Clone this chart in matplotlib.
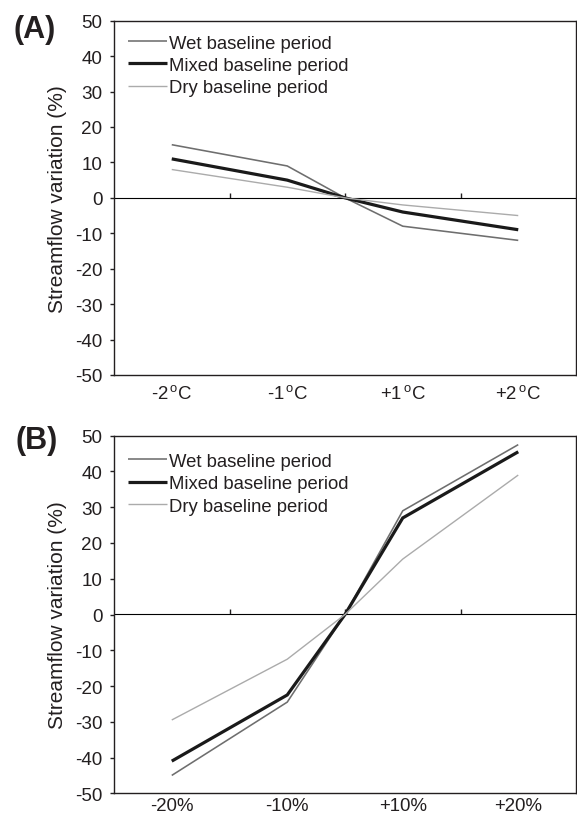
import numpy as np
import matplotlib
matplotlib.use("Agg")
import matplotlib.pyplot as plt

plt.rcParams['font.family'] = ['Liberation Sans', 'DejaVu Sans']
plt.rcParams['mathtext.fontset'] = 'custom'
plt.rcParams['mathtext.rm'] = 'Liberation Sans'

# ---- data ----
temp_labels = [r'-2$^{\,\mathrm{o}}$C', r'-1$^{\,\mathrm{o}}$C', r'+1$^{\,\mathrm{o}}$C', r'+2$^{\,\mathrm{o}}$C']
temp_wet = [15.0, 9.0, -8.0, -12.0]
temp_mixed = [11.0, 5.0, -4.0, -9.0]
temp_dry = [8.0, 3.0, -2.0, -5.0]

rain_labels = ['-20%', '-10%', '+10%', '+20%']
rain_wet = [-45.0, -24.5, 29.0, 47.5]
rain_mixed = [-41.0, -22.5, 27.0, 45.5]
rain_dry = [-29.5, -12.5, 15.5, 39.0]

baseline_value = 0.0
series_names = ['Wet baseline period', 'Mixed baseline period', 'Dry baseline period']
y_ticks = list(range(-50, 51, 10))

TXT = '#231f20'
styles = [dict(color='#6e6e6e', lw=1.15),
          dict(color='#1a1a1a', lw=2.3),
          dict(color='#ababab', lw=1.0)]

W, H = 577, 820
fig = plt.figure(figsize=(W / 100, H / 100), dpi=100)


def px_axes(left, top, right, bottom):
    return fig.add_axes([left / W, 1 - bottom / H, (right - left) / W, (bottom - top) / H])


def panel(ax, labels, series, letter, letter_xy, leg_top, xpad):
    n = len(labels)
    cat_x = np.arange(n) + 0.5
    mid = n // 2
    x_line = np.insert(cat_x, mid, n / 2)
    for vals, name, st in zip(series, series_names, styles):
        y_line = np.insert(np.array(vals, dtype=float), mid, baseline_value)
        ax.plot(x_line, y_line, color=st['color'], lw=st['lw'], label=name,
                solid_joinstyle='miter', solid_capstyle='butt')
    ax.set_xlim(0, n)
    ax.set_ylim(-50, 50)
    ax.set_yticks(y_ticks)
    ax.set_yticklabels([str(v) for v in y_ticks])
    ax.set_xticks(cat_x)
    ax.set_xticklabels(labels)
    ax.tick_params(axis='x', length=0, pad=xpad, labelsize=13.4, colors=TXT)
    ax.tick_params(axis='y', direction='out', length=3.2, width=1.0, pad=5,
                   labelsize=13.6, colors=TXT)
    for s in ax.spines.values():
        s.set_linewidth(1.0)
        s.set_color(TXT)
    ax.set_ylabel('Streamflow variation (%)', fontsize=15, color=TXT, labelpad=6)
    # zero axis with category boundary ticks
    sec = ax.secondary_xaxis(0.5)
    sec.set_xticks(np.arange(1, n))
    sec.set_xticklabels([])
    sec.tick_params(direction='out', length=3.5, width=1.0, colors=TXT,
                    labelbottom=False, labeltop=False)
    sec.spines['bottom'].set_linewidth(1.0)
    sec.spines['bottom'].set_color(TXT)
    leg = ax.legend(loc='upper left', bbox_to_anchor=(0.031, leg_top), frameon=False,
                    fontsize=13.3, handlelength=2.1, handletextpad=0.12,
                    labelspacing=0.29, borderpad=0, borderaxespad=0)
    for t in leg.get_texts():
        t.set_color(TXT)
    fig.text(letter_xy[0] / W, 1 - letter_xy[1] / H, letter, fontsize=22,
             fontweight='bold', color=TXT, ha='center', va='center')


axA = px_axes(114, 21.7, 576, 376)
panel(axA, temp_labels, [temp_wet, temp_mixed, temp_dry], '(A)', (35, 30), 0.961, 6.5)

axB = px_axes(114, 436.7, 576, 794.3)
panel(axB, rain_labels, [rain_wet, rain_mixed, rain_dry], '(B)', (37, 441), 0.952, 2.8)

fig.savefig('out.png', dpi=100)
